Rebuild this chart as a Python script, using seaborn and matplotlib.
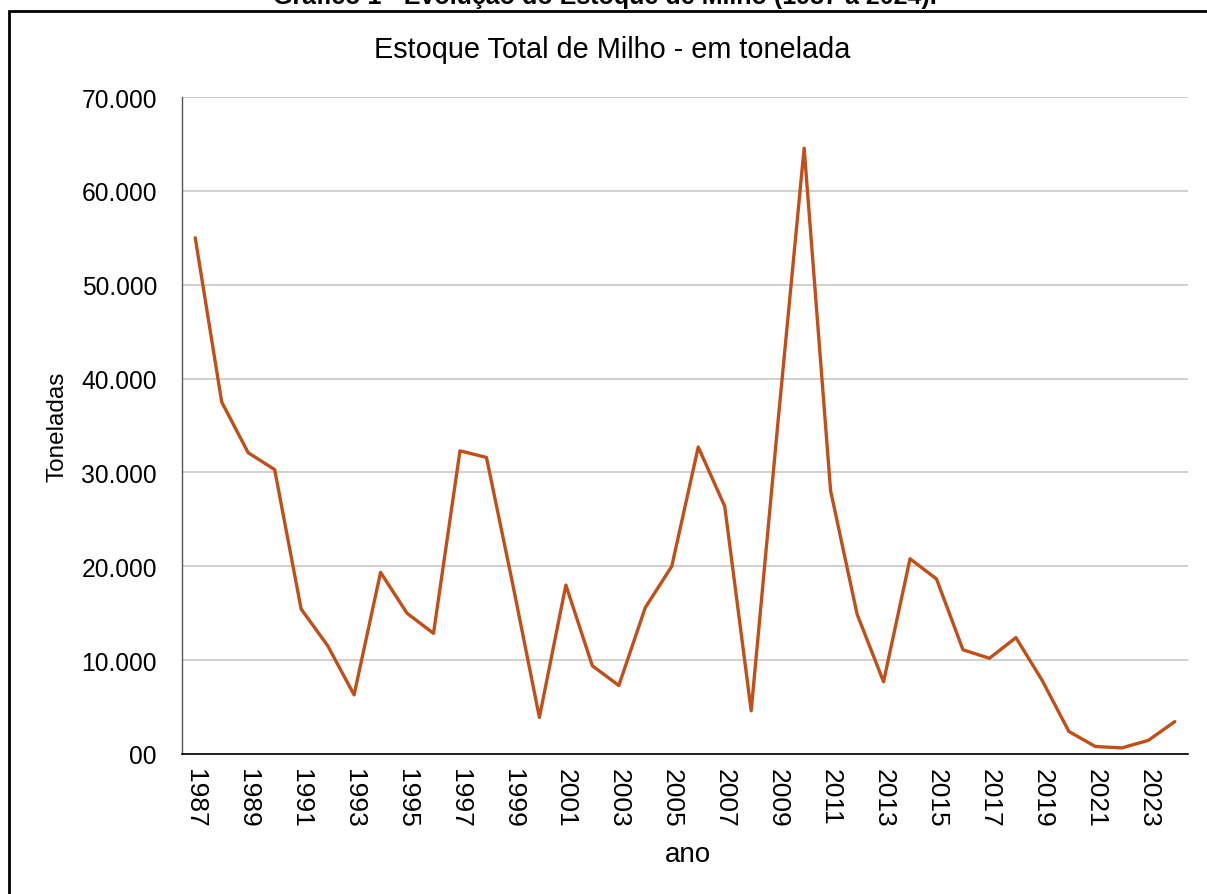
import matplotlib
matplotlib.use("Agg")
import matplotlib.pyplot as plt
import seaborn as sns
import pandas as pd
from matplotlib.patches import Rectangle

years = list(range(1987, 2025))
stock = [55000, 37500, 32100, 30300, 15450, 11550, 6300, 19350, 15000, 12850,
         32300, 31600, 18000, 3900, 18000, 9400, 7300, 15600, 20000, 32700,
         26400, 4600, 35000, 64550, 28050, 14900, 7700, 20800, 18650, 11100,
         10200, 12400, 7800, 2400, 800, 650, 1450, 3450]
ytick_values = [0, 10000, 20000, 30000, 40000, 50000, 60000, 70000]
ytick_labels = ["00", "10.000", "20.000", "30.000", "40.000", "50.000", "60.000", "70.000"]
xtick_years = list(range(1987, 2024, 2))

chart_title = "Estoque Total de Milho - em tonelada"
doc_title = "Gráfico 1 - Evolução do Estoque de Milho (1987 a 2024)."
x_label = "ano"
y_label = "Toneladas"

df = pd.DataFrame({"ano": years, "estoque": stock})

sns.set_theme(style="white")
plt.rcParams["font.family"] = ["Liberation Sans", "DejaVu Sans"]
plt.rcParams["text.color"] = "black"
plt.rcParams["axes.labelcolor"] = "black"

W, H = 1207, 895
fig = plt.figure(figsize=(W / 100, H / 100), dpi=100)
ax = fig.add_axes([182 / W, 1 - 755 / H, (1188 - 182) / W, (755 - 98) / H])

sns.lineplot(data=df, x="ano", y="estoque", ax=ax, color="#C14F17", linewidth=2.4)

ax.set_xlim(1986.5, 2024.5)
ax.set_ylim(0, 70000)
ax.set_yticks(ytick_values)
ax.set_yticklabels(ytick_labels, fontsize=17.7)
ax.set_xticks(xtick_years)
ax.set_xticklabels([str(y) for y in xtick_years], rotation=-90, fontsize=19)
ax.tick_params(axis="y", length=0, pad=18, colors="black")
ax.tick_params(axis="x", length=0, pad=10, colors="black")
ax.yaxis.grid(True, color="#c8c8c8", linewidth=1.2)
ax.xaxis.grid(False)
ax.set_axisbelow(True)

for side in ["top", "right"]:
    ax.spines[side].set_visible(False)
ax.spines["left"].set_color("#555555")
ax.spines["left"].set_linewidth(1.0)
ax.spines["bottom"].set_color("black")
ax.spines["bottom"].set_linewidth(1.2)

ax.set_xlabel(x_label, fontsize=20)
ax.xaxis.set_label_coords((688 - 182) / (1188 - 182), -(855 - 755) / (755 - 98))
ax.xaxis.label.set_verticalalignment("center")
ax.set_ylabel(y_label, fontsize=17.5)
ax.yaxis.set_label_coords(-(182 - 57) / (1188 - 182), 0.5)
ax.yaxis.label.set_verticalalignment("center")

fig.text(612 / W, 1 - 50 / H, chart_title, ha="center", va="center", fontsize=20.8, color="black")
fig.text(605 / W, 1 - 9 / H, doc_title, ha="center", va="bottom", fontsize=18, fontweight="bold", color="black")

fig.patches.append(Rectangle((9 / W, -0.05), 1.2, 1 - 12 / H + 0.05, transform=fig.transFigure,
                             fill=False, edgecolor="black", linewidth=2.0))

fig.savefig("out.png", dpi=100, facecolor="white")
